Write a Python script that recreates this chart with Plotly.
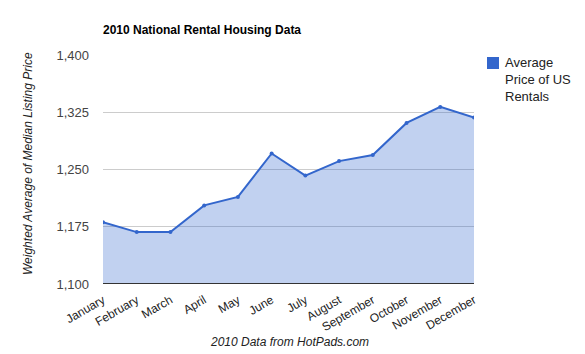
import plotly.graph_objects as go

months = ["January", "February", "March", "April", "May", "June", "July",
          "August", "September", "October", "November", "December"]
prices = [1181, 1168, 1168, 1203, 1214, 1271, 1242, 1261, 1269, 1311, 1332, 1318]
y_ticks = [1100, 1175, 1250, 1325, 1400]

LINE = "#3366CC"
FILL = "rgba(51,102,204,0.3)"

L, R, T, B = 103, 474, 55, 284
W, H = 585, 354
PW, PH = R - L, B - T

fig = go.Figure()
fig.add_trace(go.Scatter(
    x=months, y=prices, mode="lines+markers",
    line=dict(color=LINE, width=2),
    marker=dict(color=LINE, size=4),
    fill="tozeroy", fillcolor=FILL,
    name="Average Price of US Rentals",
    showlegend=False,
))

fig.update_layout(
    width=W, height=H,
    margin=dict(l=L, r=W - R, t=T, b=H - B, autoexpand=False),
    paper_bgcolor="white", plot_bgcolor="white",
    font=dict(family="Arial, Liberation Sans, sans-serif", color="#222"),
    title=dict(text="<b>2010 National Rental Housing Data</b>",
               x=L / W, xanchor="left", y=1 - 30 / H, yanchor="middle",
               font=dict(size=12, color="#000")),
    xaxis=dict(
        tickangle=-30, tickfont=dict(size=12, color="#222"),
        showgrid=False, showline=False, ticks="", automargin=False,
        ticklabelstandoff=6,
        range=[0, 11],
    ),
    yaxis=dict(
        range=[1100, 1400], tickvals=y_ticks, tickformat=",",
        tickfont=dict(size=13, color="#444"), automargin=False,
        showgrid=True, gridcolor="#CCCCCC", gridwidth=1,
        zeroline=False, showline=False, ticks="", ticklabelstandoff=13,
    ),
)

# baseline
fig.add_shape(type="line", xref="paper", yref="y", x0=0, x1=1, y0=1100, y1=1100,
              line=dict(color="#333333", width=2))

# axis titles
fig.add_annotation(xref="paper", yref="paper", x=(289 - L) / PW, y=(B - 342) / PH,
                   xanchor="center", yanchor="middle", showarrow=False,
                   text="<i>2010 Data from HotPads.com</i>",
                   font=dict(size=12, color="#222"))
fig.add_annotation(xref="paper", yref="paper", x=(28 - L) / PW, y=(B - 164) / PH,
                   xanchor="center", yanchor="middle", showarrow=False, textangle=-90,
                   text="<i>Weighted Average of Median Listing Price</i>",
                   font=dict(size=12, color="#222"))

# legend swatch and text
fig.add_shape(type="rect", xref="paper", yref="paper",
              x0=(487 - L) / PW, x1=(499 - L) / PW,
              y0=(B - 57) / PH, y1=(B - 69) / PH,
              fillcolor=LINE, line=dict(width=0))
fig.add_annotation(xref="paper", yref="paper",
                   x=(503 - L) / PW, y=(B - 53) / PH, xanchor="left", yanchor="top",
                   text="Average<br>Price of US<br>Rentals", showarrow=False, align="left",
                   font=dict(size=13, color="#222"))

fig.write_html("out.html")
